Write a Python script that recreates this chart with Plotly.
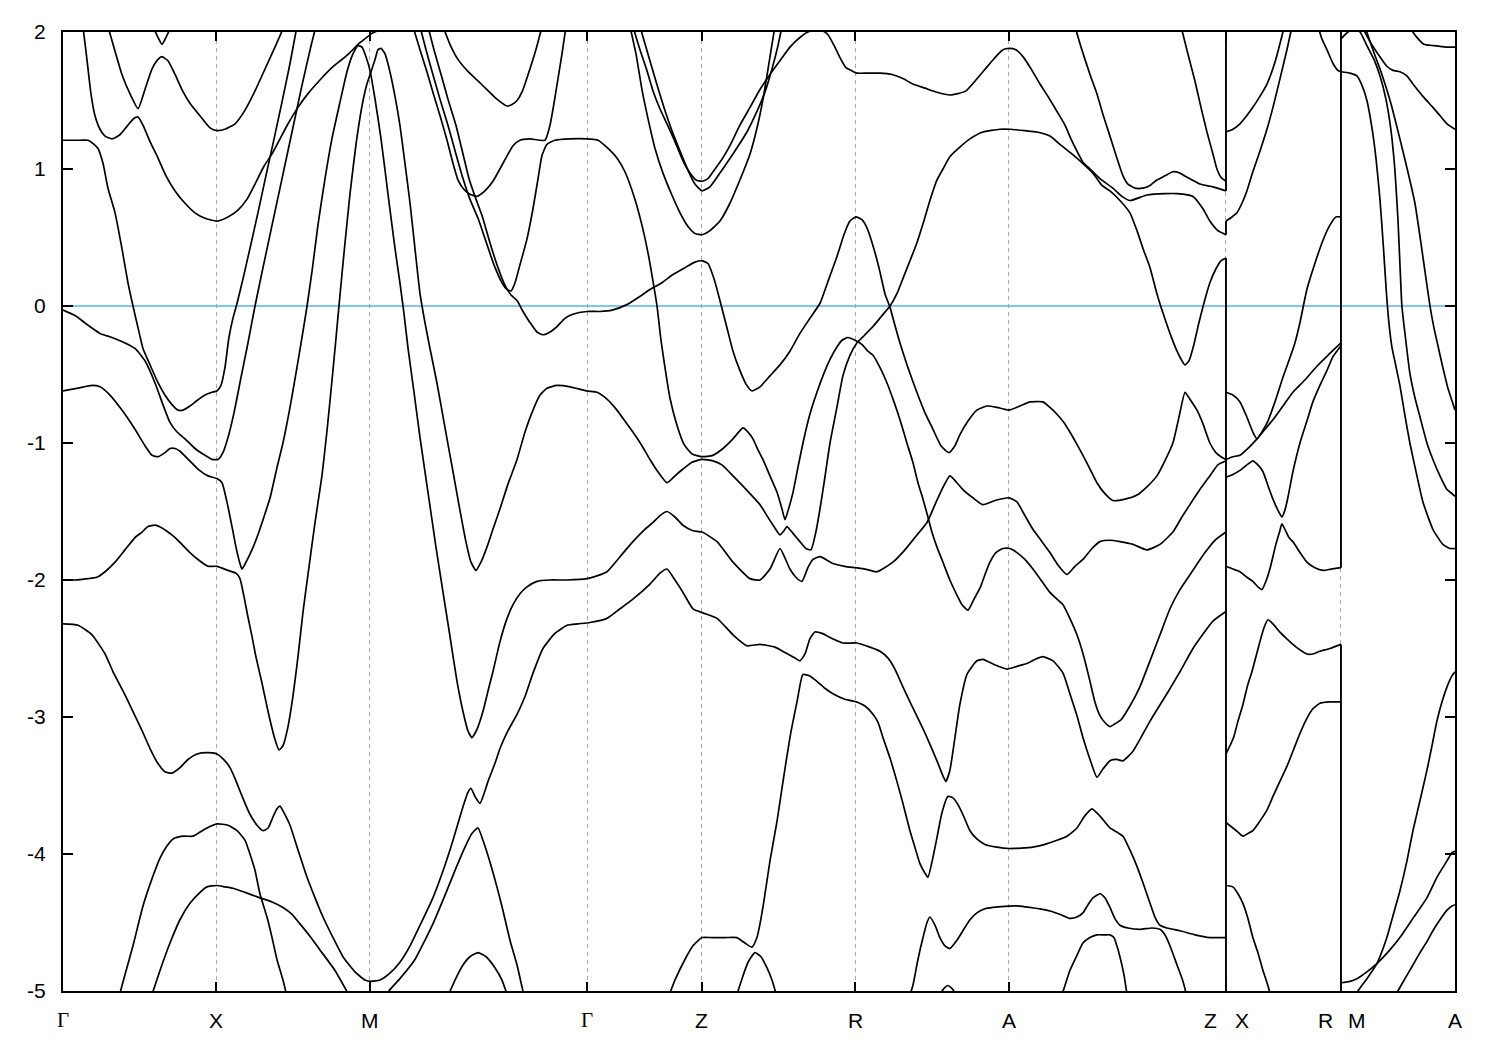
import plotly.graph_objects as go

# High-symmetry path positions (k in units of the Gamma-X length)
hs_k = [0.0, 1.0, 2.0, 3.414, 4.161, 5.161, 6.161, 7.577, 8.326, 9.069]
hs_labels = ["Γ", "X", "M", "Γ", "Z", "R", "A", "Z|X", "R|M", "A"]
y_ticks = [-5, -4, -3, -2, -1, 0, 1, 2]
y_ticktext = ["-5", "-4", "-3", "-2", "-1", "0", "1", "2"]

# Bands as (k, E[eV]) pairs
b01 = [(0,1.21),(0.111,1.21),(0.163,1.21),(0.202,1.18),(0.228,1.15),(0.261,1.04),(0.293,0.86),(0.339,0.68),(0.384,0.42),(0.423,0.17),(0.456,0.0),(0.489,-0.16),(0.521,-0.31),(0.567,-0.43),(0.619,-0.56),(0.664,-0.65),(0.710,-0.72),(0.749,-0.76),(0.782,-0.76),(0.827,-0.73),(0.873,-0.69),(0.925,-0.65),(0.971,-0.63),(1.003,-0.62),(1.029,-0.58),(1.055,-0.45),(1.081,-0.23),(1.107,-0.09),(1.134,0.02),(1.173,0.20),(1.218,0.42),(1.270,0.68),(1.322,0.95),(1.375,1.22),(1.427,1.49),(1.479,1.77),(1.524,2.04)]
b02 = [(0,-0.03),(0.078,-0.07),(0.163,-0.14),(0.241,-0.20),(0.319,-0.23),(0.404,-0.27),(0.469,-0.31),(0.534,-0.40),(0.599,-0.56),(0.651,-0.72),(0.697,-0.85),(0.743,-0.92),(0.795,-0.97),(0.860,-1.04),(0.925,-1.09),(0.971,-1.12),(1.010,-1.12),(1.042,-1.07),(1.075,-0.96),(1.114,-0.78),(1.160,-0.52),(1.205,-0.27),(1.251,0.0),(1.303,0.28),(1.362,0.59),(1.427,0.93),(1.492,1.27),(1.557,1.61),(1.616,1.90),(1.648,2.04)]
b03 = [(0.130,2.04),(0.156,1.80),(0.182,1.55),(0.208,1.39),(0.241,1.29),(0.274,1.24),(0.319,1.22),(0.371,1.25),(0.423,1.32),(0.463,1.37),(0.489,1.38),(0.521,1.32),(0.567,1.20),(0.619,1.08),(0.671,0.95),(0.730,0.84),(0.795,0.75),(0.860,0.68),(0.925,0.64),(1.003,0.62),(1.075,0.65),(1.140,0.70),(1.199,0.78),(1.251,0.89),(1.309,1.02),(1.362,1.11),(1.414,1.22),(1.466,1.33),(1.531,1.45),(1.596,1.55),(1.674,1.65),(1.752,1.74),(1.818,1.80),(1.870,1.85),(1.922,1.91),(1.967,1.95),(2.013,1.99),(2.052,2.01)]
b04 = [(0.293,2.04),(0.339,1.86),(0.384,1.69),(0.436,1.55),(0.489,1.44),(0.534,1.58),(0.580,1.73),(0.619,1.80),(0.645,1.82),(0.684,1.79),(0.730,1.69),(0.775,1.58),(0.827,1.48),(0.906,1.37),(0.958,1.30),(1.003,1.28),(1.055,1.29),(1.121,1.33),(1.186,1.43),(1.251,1.57),(1.316,1.73),(1.381,1.89),(1.440,2.04)]
b05 = [(0.586,2.04),(0.619,1.96),(0.645,1.91),(0.671,1.96),(0.704,2.04)]
b06 = [(0,-0.62),(0.098,-0.60),(0.189,-0.58),(0.241,-0.59),(0.306,-0.65),(0.384,-0.76),(0.469,-0.90),(0.534,-1.02),(0.580,-1.09),(0.619,-1.10),(0.664,-1.07),(0.697,-1.04),(0.730,-1.04),(0.762,-1.06),(0.808,-1.11),(0.879,-1.19),(0.945,-1.24),(1.003,-1.26),(1.036,-1.29),(1.068,-1.43),(1.101,-1.61),(1.127,-1.76),(1.153,-1.88),(1.166,-1.92),(1.192,-1.87),(1.231,-1.78),(1.270,-1.67),(1.309,-1.54),(1.349,-1.40),(1.394,-1.18),(1.433,-1.00),(1.479,-0.74),(1.518,-0.49),(1.557,-0.23),(1.590,0.0),(1.622,0.25),(1.661,0.59),(1.707,0.93),(1.752,1.22),(1.805,1.49),(1.850,1.71),(1.889,1.84),(1.922,1.90),(1.948,1.89),(1.974,1.82),(2.000,1.72),(2.033,1.51),(2.072,1.22),(2.117,0.82),(2.163,0.42),(2.195,0.17),(2.221,-0.05),(2.248,-0.31),(2.287,-0.63),(2.326,-0.96),(2.378,-1.36),(2.430,-1.76),(2.476,-2.09),(2.521,-2.41),(2.567,-2.74),(2.606,-2.96),(2.638,-3.10),(2.664,-3.15),(2.697,-3.09),(2.736,-2.96),(2.769,-2.81),(2.801,-2.67),(2.847,-2.45),(2.893,-2.28),(2.932,-2.18),(2.977,-2.10),(3.023,-2.05),(3.088,-2.01),(3.173,-2.00),(3.284,-2.00),(3.414,-1.99),(3.479,-1.97),(3.544,-1.94),(3.629,-1.83),(3.713,-1.72),(3.791,-1.63),(3.844,-1.58),(3.889,-1.53),(3.935,-1.50),(3.987,-1.54),(4.039,-1.60),(4.104,-1.64),(4.163,-1.65),(4.261,-1.72),(4.365,-1.87),(4.476,-1.99),(4.541,-2.00),(4.606,-1.92),(4.671,-1.77),(4.704,-1.84),(4.736,-1.92),(4.775,-1.98),(4.814,-2.01),(4.853,-1.91),(4.886,-1.85),(4.932,-1.83),(5.016,-1.88),(5.094,-1.90),(5.160,-1.91),(5.225,-1.92),(5.303,-1.94),(5.407,-1.87),(5.485,-1.78),(5.550,-1.69),(5.629,-1.58),(5.681,-1.45),(5.726,-1.34),(5.778,-1.24),(5.824,-1.29),(5.863,-1.34),(5.928,-1.40),(5.993,-1.45),(6.072,-1.42),(6.163,-1.40),(6.215,-1.43),(6.267,-1.53),(6.319,-1.63),(6.378,-1.72),(6.430,-1.80),(6.482,-1.89),(6.541,-1.96),(6.593,-1.90),(6.645,-1.85),(6.704,-1.77),(6.756,-1.72),(6.821,-1.71),(6.886,-1.72),(6.971,-1.74),(7.062,-1.78),(7.147,-1.74),(7.231,-1.65),(7.290,-1.54),(7.342,-1.45),(7.407,-1.34),(7.472,-1.24),(7.524,-1.16),(7.577,-1.13)]
b07 = [(0,-2.00),(0.078,-2.00),(0.163,-1.99),(0.221,-1.98),(0.274,-1.94),(0.339,-1.87),(0.404,-1.78),(0.469,-1.69),(0.515,-1.65),(0.554,-1.61),(0.599,-1.60),(0.645,-1.62),(0.684,-1.65),(0.730,-1.69),(0.775,-1.74),(0.827,-1.80),(0.879,-1.85),(0.945,-1.90),(1.003,-1.90),(1.075,-1.93),(1.127,-1.95),(1.153,-1.99),(1.179,-2.12),(1.205,-2.27),(1.231,-2.41),(1.257,-2.56),(1.296,-2.75),(1.336,-2.96),(1.375,-3.14),(1.407,-3.24),(1.433,-3.21),(1.466,-3.07),(1.498,-2.85),(1.531,-2.56),(1.564,-2.23),(1.596,-1.96),(1.642,-1.58),(1.687,-1.24),(1.720,-0.91),(1.752,-0.55),(1.779,-0.23),(1.798,0.0),(1.831,0.39),(1.870,0.82),(1.909,1.18),(1.948,1.46),(1.980,1.62),(2.007,1.71),(2.033,1.80),(2.052,1.87),(2.072,1.88),(2.098,1.84),(2.130,1.71),(2.163,1.53),(2.195,1.32),(2.228,1.04),(2.261,0.75),(2.293,0.42),(2.326,0.09),(2.358,-0.12),(2.391,-0.31),(2.436,-0.56),(2.489,-0.89),(2.541,-1.21),(2.586,-1.49),(2.625,-1.72),(2.658,-1.87),(2.691,-1.93),(2.723,-1.87),(2.762,-1.76),(2.801,-1.63),(2.847,-1.48),(2.899,-1.30),(2.958,-1.12),(3.010,-0.92),(3.062,-0.76),(3.108,-0.65),(3.153,-0.60),(3.218,-0.58),(3.303,-0.59),(3.414,-0.62),(3.479,-0.63),(3.544,-0.68),(3.609,-0.76),(3.661,-0.84),(3.713,-0.92),(3.772,-1.02),(3.824,-1.12),(3.876,-1.21),(3.935,-1.29),(3.987,-1.24),(4.039,-1.19),(4.098,-1.14),(4.163,-1.12),(4.234,-1.13),(4.293,-1.16),(4.365,-1.24),(4.443,-1.33),(4.541,-1.45),(4.586,-1.53),(4.632,-1.61),(4.671,-1.67),(4.697,-1.64),(4.717,-1.61),(4.756,-1.66),(4.801,-1.72),(4.840,-1.77),(4.873,-1.78),(4.905,-1.65),(4.932,-1.48),(4.964,-1.25),(4.997,-1.00),(5.042,-0.74),(5.081,-0.51),(5.127,-0.36),(5.172,-0.27),(5.225,-0.21),(5.277,-0.15),(5.336,-0.07),(5.388,0.0),(5.433,0.09),(5.472,0.20),(5.518,0.33),(5.563,0.46),(5.603,0.60),(5.648,0.77),(5.694,0.92),(5.733,1.00),(5.778,1.09),(5.843,1.16),(5.909,1.22),(5.993,1.27),(6.104,1.29),(6.169,1.29),(6.267,1.28),(6.345,1.27),(6.430,1.24),(6.495,1.18),(6.573,1.11),(6.645,1.04),(6.710,0.97),(6.769,0.88),(6.821,0.84),(6.886,0.77),(6.951,0.68),(6.997,0.55),(7.036,0.42),(7.082,0.28),(7.127,0.09),(7.166,-0.05),(7.212,-0.20),(7.258,-0.33),(7.290,-0.40),(7.310,-0.43),(7.336,-0.40),(7.368,-0.28),(7.401,-0.12),(7.433,0.02),(7.472,0.17),(7.511,0.27),(7.544,0.33),(7.577,0.35)]
b08 = [(2.326,2.04),(2.365,1.87),(2.410,1.69),(2.456,1.51),(2.508,1.32),(2.560,1.11),(2.606,0.93),(2.651,0.78),(2.704,0.64),(2.756,0.47),(2.808,0.30),(2.860,0.17),(2.893,0.12),(2.919,0.11),(2.945,0.17),(2.977,0.30),(3.023,0.49),(3.062,0.71),(3.095,0.93),(3.121,1.10),(3.153,1.18),(3.205,1.21),(3.303,1.22),(3.414,1.22),(3.486,1.21),(3.551,1.15),(3.609,1.08),(3.661,0.98),(3.726,0.78),(3.772,0.59),(3.811,0.39),(3.844,0.18),(3.870,0.0),(3.896,-0.25),(3.922,-0.45),(3.954,-0.67),(4.000,-0.87),(4.046,-1.01),(4.098,-1.08),(4.163,-1.10),(4.234,-1.09),(4.300,-1.04),(4.365,-0.97),(4.430,-0.89),(4.463,-0.92),(4.495,-0.97),(4.528,-1.05),(4.560,-1.12),(4.606,-1.24),(4.652,-1.36),(4.684,-1.48),(4.704,-1.56),(4.730,-1.47),(4.756,-1.36),(4.788,-1.18),(4.821,-1.00),(4.866,-0.79),(4.912,-0.63),(4.958,-0.49),(4.997,-0.39),(5.036,-0.31),(5.075,-0.25),(5.114,-0.23),(5.160,-0.25),(5.205,-0.28),(5.244,-0.33),(5.277,-0.36),(5.323,-0.45),(5.368,-0.56),(5.414,-0.70),(5.453,-0.83),(5.498,-1.00),(5.537,-1.14),(5.570,-1.29),(5.603,-1.41),(5.635,-1.54),(5.661,-1.65),(5.694,-1.76),(5.733,-1.87),(5.778,-2.00),(5.824,-2.11),(5.857,-2.18),(5.896,-2.22),(5.935,-2.14),(5.974,-2.06),(6.007,-1.96),(6.039,-1.87),(6.078,-1.80),(6.124,-1.77),(6.169,-1.77),(6.215,-1.80),(6.267,-1.85),(6.319,-1.92),(6.378,-2.01),(6.430,-2.09),(6.476,-2.14),(6.515,-2.18),(6.560,-2.28),(6.606,-2.40),(6.651,-2.56),(6.691,-2.74),(6.723,-2.89),(6.756,-2.99),(6.788,-3.04),(6.821,-3.07),(6.853,-3.05),(6.893,-3.02),(6.951,-2.92),(7.016,-2.78),(7.082,-2.59),(7.147,-2.40),(7.212,-2.21),(7.277,-2.07),(7.355,-1.94),(7.440,-1.80),(7.505,-1.71),(7.577,-1.65)]
b09 = [(2.378,2.04),(2.417,1.87),(2.463,1.69),(2.508,1.51),(2.560,1.32),(2.606,1.11),(2.645,0.93),(2.684,0.80),(2.730,0.66),(2.782,0.46),(2.834,0.28),(2.880,0.15),(2.919,0.08),(2.958,0.04),(2.997,-0.04),(3.042,-0.12),(3.088,-0.19),(3.127,-0.21),(3.173,-0.19),(3.218,-0.15),(3.270,-0.09),(3.322,-0.06),(3.414,-0.04),(3.498,-0.04),(3.577,-0.03),(3.674,0.01),(3.759,0.07),(3.824,0.12),(3.902,0.17),(3.974,0.23),(4.052,0.28),(4.117,0.32),(4.163,0.33),(4.202,0.31),(4.241,0.20),(4.280,0.04),(4.326,-0.16),(4.365,-0.33),(4.410,-0.47),(4.450,-0.57),(4.489,-0.62),(4.541,-0.59),(4.606,-0.51),(4.671,-0.43),(4.736,-0.33),(4.801,-0.20),(4.866,-0.09),(4.932,0.02),(4.984,0.18),(5.042,0.36),(5.088,0.52),(5.127,0.62),(5.166,0.65),(5.205,0.63),(5.238,0.57),(5.277,0.44),(5.316,0.28),(5.355,0.09),(5.388,-0.01),(5.420,-0.14),(5.453,-0.27),(5.505,-0.45),(5.563,-0.63),(5.616,-0.78),(5.668,-0.90),(5.720,-1.02),(5.772,-1.07),(5.811,-1.02),(5.843,-0.94),(5.896,-0.84),(5.954,-0.76),(6.020,-0.73),(6.085,-0.74),(6.163,-0.76),(6.235,-0.73),(6.300,-0.70),(6.384,-0.70),(6.430,-0.74),(6.476,-0.79),(6.521,-0.85),(6.560,-0.92),(6.606,-1.01),(6.645,-1.09),(6.691,-1.19),(6.736,-1.29),(6.788,-1.37),(6.840,-1.42),(6.919,-1.41),(6.997,-1.38),(7.062,-1.32),(7.127,-1.24),(7.179,-1.13),(7.231,-1.00),(7.271,-0.81),(7.310,-0.63),(7.342,-0.68),(7.388,-0.76),(7.427,-0.86),(7.472,-1.00),(7.511,-1.07),(7.544,-1.10),(7.577,-1.12)]
b10 = [(0,-2.32),(0.098,-2.33),(0.189,-2.40),(0.274,-2.54),(0.326,-2.67),(0.391,-2.81),(0.456,-2.96),(0.515,-3.10),(0.567,-3.23),(0.619,-3.34),(0.664,-3.40),(0.710,-3.41),(0.762,-3.37),(0.814,-3.31),(0.873,-3.27),(0.938,-3.26),(1.003,-3.27),(1.055,-3.32),(1.088,-3.37),(1.121,-3.45),(1.153,-3.54),(1.186,-3.63),(1.218,-3.71),(1.264,-3.79),(1.303,-3.83),(1.336,-3.81),(1.368,-3.73),(1.394,-3.67),(1.414,-3.65),(1.440,-3.70),(1.479,-3.79),(1.531,-3.97),(1.590,-4.17),(1.642,-4.32),(1.694,-4.46),(1.759,-4.61),(1.824,-4.75),(1.902,-4.86),(1.967,-4.92),(2.007,-4.93),(2.065,-4.92),(2.130,-4.87),(2.195,-4.79),(2.261,-4.67),(2.326,-4.52),(2.410,-4.32),(2.489,-4.08),(2.541,-3.90),(2.599,-3.68),(2.638,-3.55),(2.658,-3.52),(2.684,-3.58),(2.717,-3.63),(2.743,-3.56),(2.769,-3.47),(2.814,-3.34),(2.847,-3.23),(2.899,-3.10),(2.958,-2.98),(3.010,-2.85),(3.062,-2.68),(3.127,-2.50),(3.205,-2.39),(3.284,-2.33),(3.355,-2.32),(3.433,-2.31),(3.544,-2.28),(3.629,-2.21),(3.713,-2.14),(3.824,-2.03),(3.889,-1.95),(3.935,-1.92),(3.987,-2.00),(4.039,-2.09),(4.104,-2.21),(4.169,-2.24),(4.261,-2.28),(4.365,-2.40),(4.456,-2.48),(4.541,-2.47),(4.638,-2.49),(4.704,-2.53),(4.769,-2.57),(4.801,-2.59),(4.834,-2.54),(4.866,-2.43),(4.899,-2.38),(4.945,-2.39),(5.016,-2.43),(5.081,-2.46),(5.172,-2.46),(5.257,-2.49),(5.323,-2.52),(5.375,-2.57),(5.420,-2.65),(5.472,-2.78),(5.518,-2.89),(5.583,-3.04),(5.629,-3.15),(5.694,-3.32),(5.733,-3.43),(5.752,-3.47),(5.778,-3.39),(5.811,-3.15),(5.843,-2.91),(5.889,-2.69),(5.954,-2.59),(5.993,-2.58),(6.072,-2.62),(6.150,-2.65),(6.215,-2.63),(6.280,-2.61),(6.332,-2.58),(6.384,-2.56),(6.450,-2.59),(6.515,-2.68),(6.560,-2.83),(6.606,-2.99),(6.645,-3.15),(6.691,-3.31),(6.736,-3.44),(6.775,-3.38),(6.821,-3.32),(6.866,-3.31),(6.906,-3.32),(6.971,-3.25),(7.082,-3.03),(7.192,-2.83),(7.277,-2.67),(7.362,-2.50),(7.492,-2.30),(7.577,-2.23)]
b11 = [(0.358,-5.07),(0.404,-4.88),(0.456,-4.67),(0.521,-4.38),(0.580,-4.18),(0.632,-4.03),(0.678,-3.94),(0.717,-3.89),(0.782,-3.87),(0.847,-3.87),(0.893,-3.84),(0.938,-3.81),(1.003,-3.78),(1.075,-3.79),(1.134,-3.83),(1.186,-3.90),(1.218,-4.00),(1.251,-4.12),(1.283,-4.29),(1.329,-4.46),(1.362,-4.61),(1.394,-4.77),(1.433,-4.92),(1.466,-5.07)]
b12 = [(0.567,-5.07),(0.632,-4.85),(0.697,-4.65),(0.762,-4.48),(0.827,-4.36),(0.893,-4.28),(0.938,-4.24),(1.003,-4.23),(1.055,-4.24),(1.107,-4.25),(1.186,-4.28),(1.283,-4.32),(1.362,-4.35),(1.433,-4.39),(1.492,-4.44),(1.544,-4.51),(1.609,-4.60),(1.674,-4.70),(1.772,-4.85),(1.883,-5.07)]
b13 = [(2.085,-5.07),(2.130,-4.99),(2.195,-4.91),(2.293,-4.77),(2.358,-4.63),(2.410,-4.51),(2.489,-4.30),(2.554,-4.12),(2.619,-3.95),(2.664,-3.85),(2.704,-3.81),(2.736,-3.90),(2.782,-4.06),(2.827,-4.24),(2.866,-4.41),(2.912,-4.63),(2.958,-4.81),(3.010,-5.07)]
b14 = [(2.495,-5.07),(2.554,-4.92),(2.606,-4.81),(2.651,-4.75),(2.704,-4.72),(2.756,-4.75),(2.814,-4.83),(2.860,-4.92),(2.906,-5.07)]
b15 = [(3.935,-5.07),(3.987,-4.92),(4.052,-4.77),(4.104,-4.67),(4.163,-4.61),(4.228,-4.61),(4.313,-4.61),(4.391,-4.61),(4.443,-4.65),(4.489,-4.68),(4.521,-4.61),(4.541,-4.51),(4.567,-4.34),(4.606,-4.05),(4.652,-3.76),(4.691,-3.47),(4.736,-3.15),(4.782,-2.89),(4.821,-2.69),(4.866,-2.70),(4.912,-2.74),(4.964,-2.79),(5.016,-2.83),(5.094,-2.87),(5.172,-2.89),(5.225,-2.92),(5.277,-2.98),(5.310,-3.04),(5.342,-3.15),(5.388,-3.30),(5.433,-3.47),(5.472,-3.63),(5.518,-3.83),(5.550,-3.95),(5.583,-4.07),(5.616,-4.14),(5.635,-4.17),(5.661,-4.06),(5.694,-3.88),(5.726,-3.70),(5.765,-3.58),(5.798,-3.59),(5.831,-3.64),(5.870,-3.73),(5.909,-3.83),(5.954,-3.89),(6.007,-3.93),(6.085,-3.95),(6.163,-3.96),(6.319,-3.95),(6.397,-3.93),(6.476,-3.90),(6.541,-3.87),(6.606,-3.81),(6.658,-3.72),(6.704,-3.67),(6.736,-3.70),(6.769,-3.74),(6.821,-3.81),(6.866,-3.84),(6.906,-3.87),(6.951,-3.97),(6.997,-4.09),(7.036,-4.21),(7.082,-4.36),(7.114,-4.46),(7.147,-4.52),(7.192,-4.54),(7.277,-4.56),(7.375,-4.59),(7.472,-4.61),(7.577,-4.61)]
b16 = [(4.378,-5.07),(4.424,-4.91),(4.463,-4.79),(4.508,-4.72),(4.547,-4.75),(4.586,-4.83),(4.619,-4.92),(4.658,-5.07)]
b17 = [(5.505,-5.07),(5.537,-4.96),(5.570,-4.77),(5.603,-4.61),(5.629,-4.50),(5.648,-4.46),(5.681,-4.52),(5.713,-4.61),(5.746,-4.67),(5.778,-4.69),(5.824,-4.63),(5.863,-4.56),(5.909,-4.48),(5.954,-4.43),(6.007,-4.40),(6.059,-4.39),(6.163,-4.38),(6.235,-4.38),(6.300,-4.39),(6.365,-4.40),(6.443,-4.42),(6.515,-4.45),(6.560,-4.47),(6.606,-4.46),(6.645,-4.43),(6.678,-4.37),(6.710,-4.32),(6.756,-4.29),(6.788,-4.32),(6.821,-4.39),(6.853,-4.47),(6.886,-4.52),(6.938,-4.54),(7.016,-4.55),(7.094,-4.54),(7.147,-4.55),(7.179,-4.59),(7.212,-4.67),(7.258,-4.81),(7.297,-4.93),(7.329,-5.07)]
b18 = [(5.700,-5.07),(5.733,-4.99),(5.765,-4.96),(5.798,-4.99),(5.831,-5.07)]
b19 = [(6.495,-5.07),(6.528,-4.96),(6.560,-4.85),(6.606,-4.74),(6.645,-4.65),(6.691,-4.61),(6.736,-4.59),(6.788,-4.59),(6.821,-4.59),(6.847,-4.61),(6.866,-4.67),(6.886,-4.75),(6.912,-4.88),(6.938,-5.07)]
b20 = [(3.713,2.04),(3.759,1.87),(3.804,1.72),(3.844,1.57),(3.889,1.44),(3.935,1.33),(3.987,1.20),(4.039,1.06),(4.085,0.97),(4.124,0.92),(4.163,0.91),(4.202,0.93),(4.248,1.00),(4.293,1.07),(4.345,1.17),(4.410,1.32),(4.476,1.45),(4.541,1.58),(4.606,1.69),(4.671,1.79),(4.736,1.89),(4.801,1.96),(4.853,2.00),(4.899,2.01),(4.945,2.01),(4.984,1.98),(5.029,1.89),(5.068,1.80),(5.101,1.74),(5.134,1.72),(5.172,1.70),(5.244,1.70),(5.323,1.70),(5.401,1.69),(5.472,1.66),(5.537,1.62),(5.616,1.59),(5.694,1.56),(5.778,1.54),(5.830,1.55),(5.883,1.57),(5.941,1.64),(5.993,1.71),(6.039,1.77),(6.085,1.83),(6.124,1.87),(6.163,1.88),(6.208,1.87),(6.254,1.82),(6.313,1.72),(6.365,1.62),(6.417,1.53),(6.476,1.42),(6.528,1.32),(6.567,1.22),(6.606,1.13),(6.645,1.05),(6.691,1.00),(6.756,0.93),(6.840,0.86),(6.899,0.80),(6.951,0.77),(7.062,0.81),(7.179,0.82),(7.258,0.82),(7.362,0.80),(7.427,0.71),(7.472,0.62),(7.524,0.55),(7.577,0.52)]
b21 = [(3.759,2.04),(3.811,1.84),(3.863,1.64),(3.915,1.45),(3.967,1.28),(4.020,1.13),(4.072,0.99),(4.117,0.89),(4.163,0.84),(4.215,0.87),(4.280,0.97),(4.365,1.11),(4.456,1.27),(4.521,1.42),(4.573,1.56),(4.619,1.73),(4.658,1.90),(4.684,2.04)]
b22 = [(3.694,2.04),(3.733,1.84),(3.772,1.58),(3.811,1.37),(3.857,1.15),(3.909,0.97),(3.967,0.81),(4.020,0.68),(4.072,0.58),(4.117,0.53),(4.163,0.52),(4.215,0.55),(4.280,0.62),(4.345,0.75),(4.410,0.92),(4.476,1.11),(4.528,1.33),(4.567,1.55),(4.599,1.77),(4.625,1.95),(4.638,2.04)]
b23 = [(2.280,2.04),(2.326,1.87),(2.371,1.71),(2.410,1.56),(2.456,1.39),(2.502,1.21),(2.541,1.04),(2.573,0.92),(2.606,0.86),(2.645,0.82),(2.697,0.80),(2.749,0.84),(2.801,0.91),(2.866,1.04),(2.932,1.17),(2.977,1.21),(3.042,1.22),(3.140,1.21),(3.173,1.32),(3.199,1.48),(3.225,1.66),(3.251,1.84),(3.277,2.04)]
b24 = [(2.476,2.04),(2.521,1.91),(2.573,1.80),(2.632,1.72),(2.697,1.65),(2.762,1.58),(2.827,1.51),(2.893,1.46),(2.925,1.47),(2.958,1.50),(2.997,1.58),(3.042,1.73),(3.081,1.87),(3.121,2.04)]
b25 = [(6.593,2.04),(6.638,1.87),(6.691,1.69),(6.736,1.55),(6.775,1.40),(6.821,1.24),(6.866,1.08),(6.906,0.95),(6.938,0.89),(6.984,0.86),(7.036,0.86),(7.082,0.88),(7.127,0.92),(7.179,0.95),(7.231,0.98),(7.277,0.97),(7.323,0.94),(7.407,0.89),(7.492,0.87),(7.577,0.84)]
b26 = [(7.284,2.04),(7.329,1.84),(7.375,1.64),(7.414,1.45),(7.453,1.27),(7.492,1.11),(7.518,1.00),(7.544,0.94),(7.577,0.91)]
b27 = [(7.577,1.27),(7.622,1.29),(7.668,1.33),(7.713,1.39),(7.752,1.45),(7.798,1.53),(7.844,1.62),(7.896,1.78),(7.948,2.00),(7.961,2.06)]
b28 = [(7.577,0.62),(7.616,0.65),(7.648,0.68),(7.681,0.75),(7.713,0.84),(7.752,0.98),(7.798,1.13),(7.844,1.29),(7.883,1.45),(7.929,1.66),(7.974,1.87),(8.007,2.04)]
b29 = [(8.176,2.04),(8.202,1.95),(8.235,1.87),(8.274,1.77),(8.306,1.72),(8.326,1.71)]
b30 = [(7.577,-0.63),(7.622,-0.65),(7.668,-0.70),(7.713,-0.81),(7.752,-0.92),(7.779,-0.97),(7.811,-0.92),(7.850,-0.84),(7.896,-0.70),(7.948,-0.52),(7.993,-0.38),(8.026,-0.27),(8.059,-0.12),(8.104,0.12),(8.156,0.31),(8.209,0.48),(8.254,0.59),(8.293,0.65),(8.326,0.65)]
b31 = [(7.577,-1.12),(7.622,-1.10),(7.668,-1.09),(7.720,-1.04),(7.779,-0.97),(7.831,-0.90),(7.883,-0.83),(7.948,-0.73),(8.013,-0.63),(8.091,-0.54),(8.169,-0.44),(8.241,-0.36),(8.326,-0.27)]
b32 = [(7.577,-1.25),(7.622,-1.23),(7.668,-1.20),(7.713,-1.16),(7.752,-1.13),(7.785,-1.16),(7.818,-1.21),(7.850,-1.31),(7.883,-1.41),(7.915,-1.49),(7.941,-1.54),(7.961,-1.49),(7.980,-1.40),(8.013,-1.21),(8.059,-1.00),(8.104,-0.84),(8.143,-0.70),(8.189,-0.58),(8.235,-0.47),(8.274,-0.37),(8.326,-0.29)]
b33 = [(7.577,-1.90),(7.622,-1.92),(7.668,-1.94),(7.713,-1.98),(7.752,-2.01),(7.785,-2.05),(7.811,-2.07),(7.837,-2.01),(7.863,-1.92),(7.902,-1.74),(7.928,-1.64),(7.941,-1.59),(7.961,-1.63),(7.987,-1.69),(8.013,-1.72),(8.059,-1.80),(8.104,-1.87),(8.156,-1.91),(8.209,-1.93),(8.261,-1.92),(8.326,-1.91)]
b34 = [(7.577,-3.27),(7.603,-3.21),(7.629,-3.14),(7.655,-3.03),(7.687,-2.91),(7.720,-2.76),(7.746,-2.67),(7.772,-2.56),(7.798,-2.45),(7.824,-2.35),(7.850,-2.29),(7.883,-2.32),(7.928,-2.38),(7.974,-2.43),(8.013,-2.47),(8.059,-2.51),(8.104,-2.54),(8.143,-2.54),(8.189,-2.52),(8.254,-2.50),(8.326,-2.47)]
b35 = [(7.577,-3.77),(7.622,-3.81),(7.655,-3.84),(7.687,-3.87),(7.720,-3.85),(7.752,-3.83),(7.798,-3.76),(7.844,-3.68),(7.883,-3.58),(7.928,-3.47),(7.974,-3.36),(8.013,-3.25),(8.059,-3.12),(8.104,-3.01),(8.143,-2.94),(8.189,-2.90),(8.254,-2.89),(8.326,-2.89)]
b36 = [(7.577,-4.23),(7.622,-4.24),(7.655,-4.29),(7.687,-4.36),(7.720,-4.47),(7.752,-4.61),(7.785,-4.72),(7.818,-4.85),(7.850,-4.96),(7.876,-5.07)]
b37 = [(8.326,1.71),(8.384,1.70),(8.430,1.68),(8.463,1.61),(8.495,1.50),(8.528,1.30),(8.554,1.08),(8.580,0.78),(8.602,0.44),(8.622,0.10),(8.638,-0.12),(8.658,-0.30),(8.684,-0.44),(8.710,-0.58),(8.743,-0.80),(8.775,-1.00),(8.821,-1.24),(8.860,-1.43),(8.925,-1.63),(8.990,-1.74),(9.036,-1.77),(9.069,-1.77)]
b38 = [(8.326,1.95),(8.372,2.00),(8.411,2.02),(8.450,2.00),(8.495,1.90),(8.541,1.80),(8.580,1.68),(8.619,1.51),(8.651,1.29),(8.677,1.00),(8.697,0.64),(8.710,0.31),(8.723,0.0),(8.743,-0.20),(8.775,-0.49),(8.808,-0.67),(8.841,-0.81),(8.886,-1.00),(8.925,-1.12),(8.971,-1.24),(9.017,-1.34),(9.049,-1.37),(9.069,-1.39)]
b39 = [(8.482,2.04),(8.534,1.87),(8.593,1.69),(8.651,1.48),(8.710,1.22),(8.762,0.98),(8.808,0.75),(8.847,0.46),(8.880,0.20),(8.906,0.0),(8.932,-0.16),(8.958,-0.29),(8.990,-0.45),(9.023,-0.60),(9.049,-0.69),(9.069,-0.76)]
b40 = [(8.463,2.04),(8.515,1.93),(8.567,1.84),(8.625,1.75),(8.665,1.72),(8.710,1.71),(8.756,1.68),(8.795,1.62),(8.860,1.53),(8.925,1.45),(8.971,1.39),(9.017,1.33),(9.069,1.29)]
b41 = [(8.769,2.04),(8.814,1.97),(8.866,1.91),(8.932,1.90),(9.010,1.89),(9.069,1.89)]
b42 = [(8.326,-4.94),(8.384,-4.93),(8.430,-4.91),(8.495,-4.86),(8.560,-4.80),(8.645,-4.70),(8.710,-4.61),(8.795,-4.47),(8.886,-4.32),(8.951,-4.17),(9.017,-4.05),(9.049,-3.99),(9.069,-3.98)]
b43 = [(8.404,-5.07),(8.430,-5.01),(8.495,-4.91),(8.560,-4.80),(8.625,-4.61),(8.665,-4.45),(8.710,-4.27),(8.756,-4.05),(8.795,-3.83),(8.841,-3.61),(8.886,-3.39),(8.919,-3.21),(8.951,-3.03),(8.984,-2.89),(9.017,-2.78),(9.049,-2.70),(9.069,-2.67)]
b44 = [(8.645,-5.07),(8.691,-5.01),(8.743,-4.91),(8.795,-4.81),(8.841,-4.72),(8.886,-4.64),(8.925,-4.56),(8.971,-4.48),(9.017,-4.41),(9.049,-4.38),(9.069,-4.37)]

# Vertical jumps at the path discontinuities (E intervals drawn as solid lines)
jump_ZX_k = 7.577
jump_ZX_segments = [(2.05, 0.84), (0.62, 0.52), (0.35, -5.07)]
jump_RM_k = 8.326
jump_RM_segments = [(2.05, -1.91), (-2.47, -4.94)]

fermi_level = 0.0

bands = [b01, b02, b03, b04, b05, b06, b07, b08, b09, b10, b11, b12, b13, b14, b15,
         b16, b17, b18, b19, b20, b21, b22, b23, b24, b25, b26, b27, b28, b29, b30,
         b31, b32, b33, b34, b35, b36, b37, b38, b39, b40, b41, b42, b43, b44]

fig = go.Figure()

# Fermi level line
fig.add_trace(go.Scatter(x=[hs_k[0], hs_k[-1]], y=[fermi_level, fermi_level], mode="lines",
                         line=dict(color="#56b4e9", width=1.6), hoverinfo="skip", showlegend=False))

for b in bands:
    fig.add_trace(go.Scatter(x=[p[0] for p in b], y=[p[1] for p in b], mode="lines",
                             line=dict(color="black", width=1.7, shape="spline", smoothing=0.5),
                             hoverinfo="skip", showlegend=False))

for kpos, segs in ((jump_ZX_k, jump_ZX_segments), (jump_RM_k, jump_RM_segments)):
    for e0, e1 in segs:
        fig.add_trace(go.Scatter(x=[kpos, kpos], y=[e0, e1], mode="lines",
                                 line=dict(color="black", width=1.9),
                                 hoverinfo="skip", showlegend=False))

# x tick labels as annotations (pairs at discontinuities are split)
label_specs = []
for kpos, lab in zip(hs_k, hs_labels):
    if "|" in lab:
        a, b = lab.split("|")
        label_specs.append((kpos, a, -15))
        label_specs.append((kpos, b, 16))
    else:
        label_specs.append((kpos, lab, 0))
for kpos, lab, dx in label_specs:
    fam = "Liberation Serif, Times New Roman, serif" if lab == "Γ" else "Liberation Sans, Arial, sans-serif"
    fig.add_annotation(x=kpos, y=0, xref="x", yref="paper", text=lab, showarrow=False,
                       xshift=dx, yshift=-29, yanchor="middle", xanchor="center",
                       font=dict(family=fam, size=21, color="black"))

fig.update_layout(
    width=1500, height=1050,
    margin=dict(l=55, r=53, t=20, b=67),
    paper_bgcolor="white", plot_bgcolor="white",
    font=dict(family="Liberation Sans, Arial, sans-serif", size=21, color="black"),
    showlegend=False,
)
fig.update_xaxes(range=[hs_k[0], hs_k[-1]], tickvals=hs_k, showticklabels=False,
                 ticks="inside", ticklen=9, tickwidth=1.5, tickcolor="black",
                 showline=True, linecolor="black", linewidth=2, mirror="ticks",
                 showgrid=True, gridcolor="#a8a8a8", gridwidth=1, griddash="4px,4px",
                 zeroline=False)
fig.update_yaxes(range=[-5, 2], tickvals=y_ticks, ticktext=y_ticktext,
                 ticks="inside", ticklen=10, tickwidth=1.5, tickcolor="black",
                 showline=True, linecolor="black", linewidth=2, mirror="ticks",
                 showgrid=False, zeroline=False, ticklabelstandoff=11)

fig.write_html("out.html")
